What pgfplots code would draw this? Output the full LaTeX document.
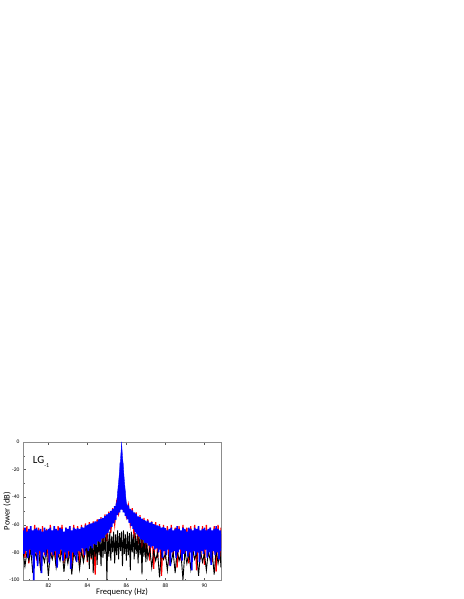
\documentclass[border=0pt]{standalone}
\usepackage{fontspec}
\setmainfont{Carlito}
\usepackage{pgfplots}
\pgfplotsset{compat=1.18}
\begin{document}
\begin{tikzpicture}
\useasboundingbox (0,0) rectangle (463pt,599pt);
\begin{axis}[
    at={(23pt,19pt)}, anchor=south west,
    scale only axis,
    width=198pt, height=138pt,
    xmin=80.7, xmax=90.85,
    ymin=-100, ymax=0,
    xtick={82,84,86,88,90},
    minor xtick={81,83,85,87,89},
    ytick={-100,-80,...,0},
    minor ytick={-90,-70,-50,-30,-10},
    xtick pos=both, ytick pos=left,
    tick align=inside,
    major tick length=2.5pt, minor tick length=1.5pt,
    axis line style={black!45},
    tick style={black!65},
    ticklabel style={font=\fontsize{5.5}{6}\selectfont},
    /pgf/number format/assume math mode=true,
    xlabel={Frequency (Hz)},
    ylabel={Power (dB)},
    label style={font=\fontsize{8.5}{10}\selectfont},
    xlabel style={at={(axis description cs:0.5,-0.087)}, anchor=center},
    ylabel style={at={(axis description cs:-0.08,0.5)}, anchor=center},
]

% reference (red)
\addplot[color=red, line width=1.2pt] coordinates {
(80.70,-62)(80.80,-84)(80.90,-61)(81.00,-88)(81.10,-63)(81.20,-80)(81.30,-60)(81.40,-86)(81.50,-62)(81.60,-91)
(81.70,-61)(81.80,-82)(81.90,-63)(82.00,-87)(82.10,-60)(82.20,-84)(82.30,-62)(82.40,-90)(82.50,-61)(82.60,-83)
(82.70,-60)(82.80,-88)(82.90,-62)(83.00,-85)(83.10,-61)(83.20,-93)(83.30,-60)(83.40,-82)(83.50,-61)(83.60,-89)
(83.70,-60)(83.80,-84)(83.90,-59)(84.00,-87)(84.10,-58)(84.20,-85)(84.30,-57.5)(84.40,-96)(84.50,-56)(84.60,-80)
(84.70,-54.5)(84.80,-78)(84.90,-52.5)(85.00,-72)(85.10,-50.5)(85.20,-66)(85.30,-48)(85.40,-60)(85.50,-44)(85.60,-52)
(85.70,-44)(85.80,-48)(85.90,-44)(86.00,-54)(86.10,-46)(86.20,-60)(86.30,-48)(86.40,-70)(86.50,-51)(86.60,-74)
(86.70,-53)(86.80,-79)(86.90,-55)(87.00,-83)(87.10,-56)(87.20,-86)(87.30,-57.5)(87.40,-92)(87.50,-58)(87.60,-84)
(87.70,-59.5)(87.80,-97)(87.90,-60)(88.00,-85)(88.10,-61)(88.20,-89)(88.30,-60)(88.40,-83)(88.50,-62)(88.60,-91)
(88.70,-61)(88.80,-86)(88.90,-60)(89.00,-82)(89.10,-62)(89.20,-88)(89.30,-61)(89.40,-84)(89.50,-60)(89.60,-93)
(89.70,-62)(89.80,-85)(89.90,-61)(90.00,-89)(90.10,-60)(90.20,-83)(90.30,-62)(90.40,-87)(90.50,-61)(90.60,-94)
(90.70,-60)(90.80,-86)(90.85,-62)
};

% background (black)
\addplot[color=black, line width=0.9pt] coordinates {
(80.70,-79)(80.80,-90)(80.90,-80)(81.00,-86)(81.10,-78)(81.20,-95)(81.30,-80)(81.40,-84)(81.50,-79)(81.60,-92)
(81.70,-81)(81.80,-87)(81.90,-78)(82.00,-97)(82.10,-80)(82.20,-85)(82.30,-79)(82.40,-91)(82.50,-81)(82.60,-86)
(82.70,-78)(82.80,-94)(82.90,-80)(83.00,-88)(83.10,-79)(83.20,-96)(83.30,-80)(83.40,-85)(83.50,-78)(83.60,-92)
(83.70,-79)(83.80,-87)
(83.95,-74)(84.00,-86)(84.05,-70)(84.10,-92)(84.15,-69)(84.20,-84)(84.25,-71)(84.30,-95)(84.35,-68)(84.40,-83)
(84.45,-70)(84.50,-89)(84.55,-67)(84.60,-82)(84.65,-69)(84.70,-90)(84.75,-66)(84.80,-84)(84.85,-68)(84.90,-81)
(84.95,-66)(85.00,-100)(85.05,-67)(85.10,-83)(85.15,-65)(85.20,-86)(85.25,-68)(85.30,-80)(85.35,-65)(85.40,-88)
(85.45,-67)(85.50,-82)(85.55,-64)(85.60,-85)(85.65,-66)(85.70,-79)(85.75,-65)(85.80,-90)(85.85,-64)(85.90,-81)
(85.95,-67)(86.00,-86)(86.05,-65)(86.10,-82)(86.15,-66)(86.20,-93)(86.25,-65)(86.30,-80)(86.35,-67)(86.40,-85)
(86.45,-66)(86.50,-81)(86.55,-68)(86.60,-88)(86.65,-67)(86.70,-82)(86.75,-69)(86.80,-96)(86.85,-68)(86.90,-83)
(86.95,-71)(87.00,-87)(87.05,-72)(87.10,-84)
(87.20,-77)(87.30,-91)(87.40,-79)(87.50,-86)(87.60,-80)(87.70,-98)(87.80,-79)(87.90,-85)(88.00,-81)(88.10,-93)
(88.20,-79)(88.30,-87)(88.40,-80)(88.50,-95)(88.60,-78)(88.70,-86)(88.80,-81)(88.90,-100)(89.00,-79)(89.10,-88)
(89.20,-80)(89.30,-92)(89.40,-78)(89.50,-85)(89.60,-80)(89.70,-97)(89.80,-79)(89.90,-87)(90.00,-81)(90.10,-93)
(90.20,-79)(90.30,-86)(90.40,-80)(90.50,-96)(90.60,-78)(90.70,-88)(90.80,-80)(90.85,-91)
};

% LG_-1 mode (blue)
\addplot[color=blue, line width=1.6pt] coordinates {
(80.70,-64)(80.75,-81)(80.80,-62)(80.85,-79)(80.90,-65)(80.95,-84)(81.00,-63)(81.05,-78)(81.10,-61)(81.15,-82)
(81.20,-64)(81.25,-100)(81.30,-63)(81.35,-80)(81.40,-62)(81.45,-90)(81.50,-64)(81.55,-79)(81.60,-63)(81.65,-95)
(81.70,-65)(81.75,-80)(81.80,-62)(81.85,-83)(81.90,-64)(81.95,-78)(82.00,-63)(82.05,-88)(82.10,-62)(82.15,-80)
(82.20,-64)(82.25,-82)(82.30,-61)(82.35,-79)(82.40,-63)(82.45,-91)(82.50,-64)(82.55,-81)(82.60,-62)(82.65,-78)
(82.70,-63)(82.75,-86)(82.80,-65)(82.85,-80)(82.90,-62)(82.95,-84)(83.00,-63)(83.05,-79)(83.10,-61)(83.15,-92)
(83.20,-64)(83.25,-80)(83.30,-62)(83.35,-82)(83.40,-63)(83.45,-87)
(83.50,-62.5)(83.55,-79)(83.60,-63)(83.65,-80)(83.70,-61.5)(83.75,-77)(83.80,-62)(83.85,-82)(83.90,-60.5)(83.95,-77)
(84.00,-60)(84.05,-79)(84.10,-59.5)(84.15,-75.5)(84.20,-59)(84.25,-77)(84.30,-58.5)(84.35,-74)(84.40,-57.5)(84.45,-74.5)
(84.50,-57.5)(84.55,-72)(84.60,-56)(84.65,-72.5)(84.70,-55.5)(84.75,-70)(84.80,-55)(84.85,-69.5)(84.90,-53.5)(84.95,-67)
(85.00,-52.5)(85.05,-66)(85.10,-51.5)(85.15,-63.5)(85.20,-50)(85.25,-61.5)(85.30,-48.5)(85.35,-59)(85.40,-46.5)(85.45,-56.5)
(85.50,-44)(85.55,-53)(85.60,-35)(85.65,-51)(85.70,-15)(85.75,-49)(85.80,-15)(85.85,-51)(85.90,-35)(85.95,-53.5)
(86.00,-44.5)(86.05,-56)(86.10,-46)(86.15,-58.5)(86.20,-48.5)(86.25,-61)(86.30,-49.5)(86.35,-63)(86.40,-51)(86.45,-65.5)
(86.50,-52)(86.55,-67)(86.60,-54)(86.65,-68.5)(86.70,-54.5)(86.75,-70.5)(86.80,-55.5)(86.85,-71)(86.90,-56.5)(86.95,-73)
(87.00,-57)(87.05,-73.5)(87.10,-57)(87.15,-75)(87.20,-58.5)(87.25,-76.5)(87.30,-58)(87.35,-75.5)(87.40,-59.5)(87.45,-78)
(87.50,-60)(87.55,-77)(87.60,-60.5)(87.65,-80)(87.70,-61)(87.75,-78)(87.80,-62)(87.85,-84)(87.90,-61.5)(87.95,-79)
(88.00,-62.5)(88.05,-82)(88.10,-64)(88.15,-78)(88.20,-63)(88.25,-90)(88.30,-62)(88.35,-80)(88.40,-64)(88.45,-79)
(88.50,-63)(88.55,-84)(88.60,-61)(88.65,-80)(88.70,-63)(88.75,-78)(88.80,-64)(88.85,-86)(88.90,-62)(88.95,-81)
(89.00,-63)(89.05,-79)(89.10,-65)(89.15,-83)(89.20,-62)(89.25,-80)(89.30,-63)(89.35,-93)(89.40,-64)(89.45,-79)
(89.50,-62)(89.55,-82)(89.60,-63)(89.65,-80)(89.70,-61)(89.75,-87)(89.80,-64)(89.85,-79)(89.90,-63)(89.95,-81)
(90.00,-62)(90.05,-78)(90.10,-64)(90.15,-84)(90.20,-63)(90.25,-80)(90.30,-62)(90.35,-89)(90.40,-64)(90.45,-79)
(90.50,-63)(90.55,-82)(90.60,-61)(90.65,-80)(90.70,-63)(90.75,-85)(90.80,-64)(90.85,-79)
};

% peak core
\addplot[fill=blue, draw=blue, line width=0.3pt] coordinates {
(85.50,-44)(85.53,-40)(85.59,-30)(85.66,-20)(85.71,-10)(85.74,-4)(85.755,0)(85.77,-4)(85.80,-10)
(85.85,-20)(85.91,-30)(85.97,-40)(86.00,-44)(85.90,-50)(85.75,-47.5)(85.60,-50)
};

\node[anchor=base west, font=\fontsize{11}{12}\selectfont, inner sep=0pt]
    at (axis cs:81.2,-15.4) {LG\raisebox{-4pt}{\fontsize{6}{6}\selectfont -1}};
\end{axis}
\end{tikzpicture}
\end{document}
